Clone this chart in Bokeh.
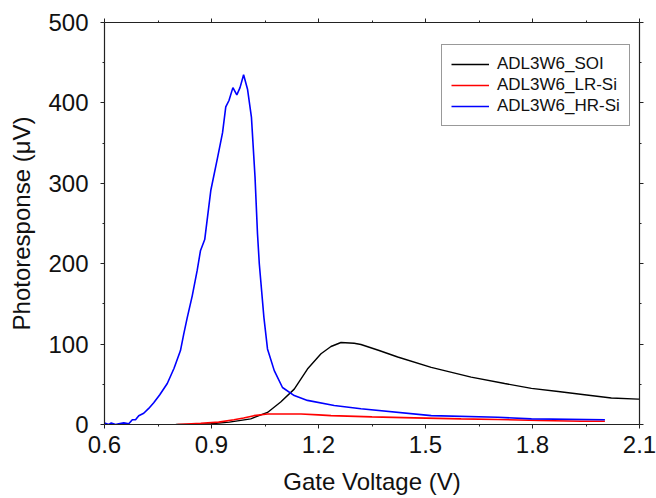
from bokeh.plotting import figure
from bokeh.models import Range1d, FixedTicker, LinearAxis, Legend, LegendItem, CustomJSTickFormatter
from bokeh.embed import file_html
from bokeh.resources import INLINE

# ---- data ----
soi_v = [0.80, 0.85, 0.898, 0.95, 1.01, 1.057, 1.094, 1.132, 1.169, 1.207, 1.235,
         1.263, 1.30, 1.319, 1.37, 1.422, 1.516, 1.628, 1.722, 1.797, 1.872,
         1.946, 2.021, 2.096, 2.10]
soi_r = [0, 0, 1, 3, 7, 15, 28, 44, 69, 88, 97,
         102, 101, 99.5, 92, 84, 71, 59, 51, 45, 41,
         37, 33, 31.5, 31.5]

lr_v = [0.804, 0.87, 0.92, 0.963, 0.99, 1.019, 1.057, 1.10, 1.151, 1.20, 1.235,
        1.35, 1.469, 1.60, 1.703, 1.82, 1.937, 2.003]
lr_r = [0, 1.5, 3, 6, 8, 11, 13, 13, 13, 12, 11,
        9.5, 8.3, 7, 6.2, 5, 4, 4]

hr_v = [0.600, 0.612, 0.619, 0.631, 0.640, 0.654, 0.668, 0.678, 0.687, 0.696,
        0.710, 0.724, 0.738, 0.755, 0.776, 0.795, 0.813, 0.822, 0.832, 0.846,
        0.860, 0.869, 0.881, 0.898, 0.917, 0.931, 0.940, 0.949, 0.960, 0.971,
        0.980, 0.990, 1.001, 1.012, 1.022, 1.029, 1.034, 1.047, 1.057, 1.076,
        1.099, 1.132, 1.169, 1.244, 1.319, 1.516, 1.703, 1.797, 2.003]
hr_r = [2, 0, 2, 0, 1, 2, 1, 6, 6, 11,
        14, 20, 27, 37, 51, 70, 92, 112, 133, 160,
        192, 216, 230, 291, 332, 363, 395, 403, 419, 410,
        419, 435, 417, 382, 308, 237, 200, 133, 94, 67,
        46, 36, 30, 23.6, 19.5, 11, 9, 7, 6]

x_ticks = [0.6, 0.9, 1.2, 1.5, 1.8, 2.1]
x_minor = [0.75, 1.05, 1.35, 1.65, 1.95]
y_ticks = [0, 100, 200, 300, 400, 500]
y_minor = [50, 150, 250, 350, 450]

labels = ["ADL3W6_SOI", "ADL3W6_LR-Si", "ADL3W6_HR-Si"]
colors = ["#000000", "#ff0000", "#0000ff"]

FONT = "Liberation Sans"

p = figure(width=656, height=498, output_backend="svg", toolbar_location=None,
           x_range=Range1d(0.6, 2.1), y_range=Range1d(0, 500),
           x_axis_label="Gate Voltage (V)", y_axis_label="Photoresponse (\u03bcV)",
           min_border_left=104, min_border_top=22, min_border_right=17,
           min_border_bottom=74)
p.grid.visible = False
p.outline_line_color = None
p.background_fill_color = "white"
p.border_fill_color = "white"

r1 = p.line(soi_v, soi_r, line_color=colors[0], line_width=1.4)
r2 = p.line(lr_v, lr_r, line_color=colors[1], line_width=1.6)
r3 = p.line(hr_v, hr_r, line_color=colors[2], line_width=1.6)

def style(ax, ticks, minor, show_labels):
    ax.ticker = FixedTicker(ticks=ticks, minor_ticks=minor)
    ax.axis_line_color = "#222222"
    ax.axis_line_width = 1.2
    ax.major_tick_line_color = "#222222"
    ax.minor_tick_line_color = "#222222"
    ax.major_tick_out = 4
    ax.major_tick_in = 0
    ax.minor_tick_out = 2
    ax.minor_tick_in = 0
    if show_labels:
        ax.major_label_text_font = FONT
        ax.major_label_text_font_size = "24px"
        ax.major_label_text_color = "#111111"
        ax.axis_label_text_font = FONT
        ax.axis_label_text_font_size = "24px"
        ax.axis_label_text_font_style = "normal"
        ax.axis_label_text_color = "#111111"
    else:
        ax.formatter = CustomJSTickFormatter(code="return ''")
        ax.major_label_standoff = 0

style(p.xaxis[0], x_ticks, x_minor, True)
style(p.yaxis[0], y_ticks, y_minor, True)
p.xaxis[0].major_label_standoff = 7
p.xaxis[0].axis_label_standoff = 12
p.yaxis[0].major_label_standoff = 12
p.yaxis[0].axis_label_standoff = 10

top = LinearAxis()
right = LinearAxis()
style(top, x_ticks, x_minor, False)
style(right, y_ticks, y_minor, False)
p.add_layout(top, "above")
p.add_layout(right, "right")

legend = Legend(items=[LegendItem(label=labels[0], renderers=[r1]),
                       LegendItem(label=labels[1], renderers=[r2]),
                       LegendItem(label=labels[2], renderers=[r3])],
                location=(337, 298))
legend.label_text_font = FONT
legend.label_text_font_size = "17px"
legend.label_text_color = "#111111"
legend.border_line_color = "#333333"
legend.border_line_width = 1
legend.padding = 9
legend.margin = 0
legend.spacing = 1
legend.glyph_width = 38
legend.glyph_height = 18
legend.label_height = 18
legend.label_standoff = 8
legend.background_fill_alpha = 1
p.add_layout(legend, "center")

open("out.html", "w").write(file_html(p, INLINE))
